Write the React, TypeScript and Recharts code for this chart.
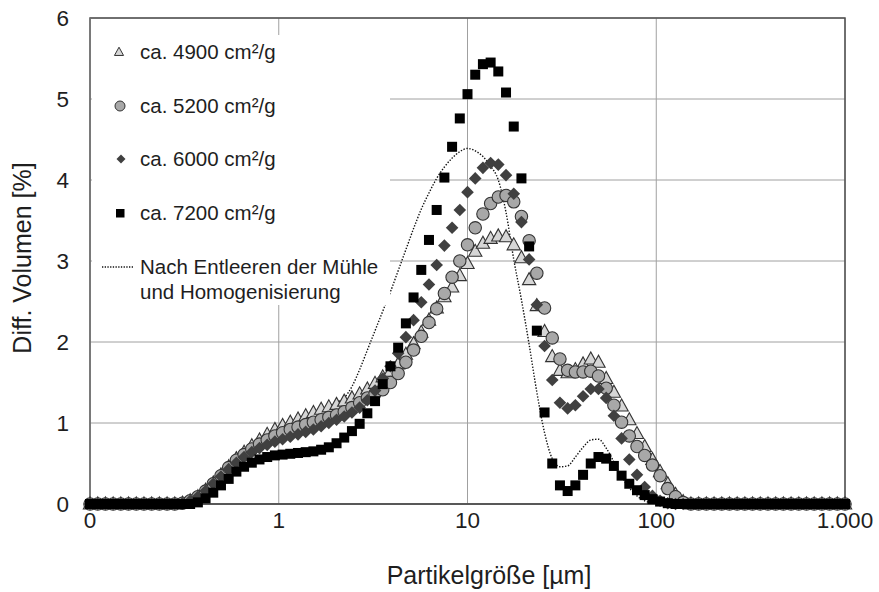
import React from 'react';
import { ComposedChart, Line, XAxis, YAxis, CartesianGrid, Legend, ReferenceArea } from 'recharts';

// particle size classes [µm]
const sizes = [
  0.1, 0.1099, 0.1207, 0.1326, 0.1456, 0.16, 0.1758, 0.1931, 0.2121, 0.233,
  0.256, 0.2812, 0.3089, 0.3393, 0.3728, 0.4095, 0.4498, 0.4942, 0.5429, 0.5964,
  0.6551, 0.7197, 0.7906, 0.8685, 0.9541, 1.048, 1.151, 1.265, 1.389, 1.526,
  1.677, 1.842, 2.024, 2.223, 2.442, 2.683, 2.947, 3.237, 3.556, 3.907,
  4.292, 4.715, 5.179, 5.69, 6.25, 6.866, 7.543, 8.286, 9.103, 10,
  10.99, 12.07, 13.26, 14.56, 16, 17.58, 19.31, 21.21, 23.3, 25.6,
  28.12, 30.89, 33.93, 37.28, 40.95, 44.98, 49.42, 54.29, 59.64, 65.51,
  71.97, 79.06, 86.85, 95.41, 104.8, 115.1, 126.5, 138.9, 152.6, 167.7,
  184.2, 202.4, 222.3, 244.2, 268.3, 294.7, 323.7, 355.6, 390.7, 429.2,
  471.5, 517.9, 569, 625, 686.6, 754.3, 828.6, 910.3, 1000,
];

const ca4900 = [
  0, 0, 0, 0, 0, 0, 0, 0, 0, 0,
  0, 0, 0.01, 0.04, 0.09, 0.17, 0.26, 0.36, 0.46, 0.56,
  0.64, 0.72, 0.79, 0.86, 0.92, 0.97, 1.01, 1.05, 1.09, 1.13,
  1.17, 1.2, 1.23, 1.27, 1.31, 1.36, 1.42, 1.49, 1.57, 1.64,
  1.73, 1.85, 1.98, 2.12, 2.27, 2.42, 2.56, 2.68, 2.82, 2.97,
  3.12, 3.22, 3.28, 3.31, 3.3, 3.2, 3.04, 2.77, 2.45, 2.13,
  1.82, 1.65, 1.62, 1.66, 1.73, 1.79, 1.75, 1.55, 1.38, 1.21,
  1.04, 0.87, 0.71, 0.55, 0.4, 0.25, 0.12, 0.03, 0, 0,
  0, 0, 0, 0, 0, 0, 0, 0, 0, 0,
  0, 0, 0, 0, 0, 0, 0, 0, 0,
];

const ca5200 = [
  0, 0, 0, 0, 0, 0, 0, 0, 0, 0,
  0, 0, 0.01, 0.04, 0.09, 0.16, 0.25, 0.35, 0.45, 0.54,
  0.61, 0.68, 0.74, 0.79, 0.84, 0.88, 0.92, 0.95, 0.98, 1.01,
  1.04, 1.07, 1.1, 1.14, 1.19, 1.25, 1.31, 1.36, 1.41, 1.5,
  1.61, 1.75, 1.9, 2.07, 2.24, 2.41, 2.6, 2.8, 3.0, 3.2,
  3.41, 3.58, 3.71, 3.79, 3.81, 3.73, 3.55, 3.25, 2.85, 2.42,
  2.05, 1.79, 1.65, 1.63, 1.63, 1.64, 1.58, 1.43, 1.22, 1.01,
  0.84, 0.71, 0.6, 0.48, 0.35, 0.19, 0.09, 0.02, 0, 0,
  0, 0, 0, 0, 0, 0, 0, 0, 0, 0,
  0, 0, 0, 0, 0, 0, 0, 0, 0,
];

const ca6000 = [
  0, 0, 0, 0, 0, 0, 0, 0, 0, 0,
  0, 0, 0.01, 0.04, 0.09, 0.16, 0.25, 0.34, 0.43, 0.51,
  0.58, 0.64, 0.69, 0.73, 0.77, 0.8, 0.83, 0.86, 0.89, 0.92,
  0.96, 1.0, 1.04, 1.08, 1.13, 1.19, 1.28, 1.4, 1.55, 1.7,
  1.86, 2.06, 2.27, 2.49, 2.71, 2.95, 3.19, 3.41, 3.63, 3.85,
  4.02, 4.15, 4.21, 4.19, 4.06, 3.83, 3.48, 3.02, 2.46, 1.95,
  1.53, 1.25, 1.18, 1.22, 1.33, 1.42, 1.42, 1.31, 1.09, 0.81,
  0.55, 0.36, 0.21, 0.1, 0.04, 0.01, 0, 0, 0, 0,
  0, 0, 0, 0, 0, 0, 0, 0, 0, 0,
  0, 0, 0, 0, 0, 0, 0, 0, 0,
];

const ca7200 = [
  0, 0, 0, 0, 0, 0, 0, 0, 0, 0,
  0, 0, 0, 0, 0.02, 0.07, 0.14, 0.23, 0.31, 0.4,
  0.46, 0.51, 0.55, 0.58, 0.6, 0.61, 0.62, 0.63, 0.64, 0.65,
  0.67, 0.7, 0.75, 0.82, 0.9, 0.99, 1.12, 1.27, 1.48, 1.7,
  1.93, 2.23, 2.55, 2.89, 3.26, 3.63, 4.03, 4.41, 4.76, 5.06,
  5.3, 5.43, 5.45, 5.34, 5.08, 4.66, 4.02, 3.18, 2.14, 1.13,
  0.5, 0.23, 0.16, 0.23, 0.36, 0.5, 0.58, 0.56, 0.47, 0.35,
  0.25, 0.17, 0.11, 0.06, 0.03, 0.01, 0, 0, 0, 0,
  0, 0, 0, 0, 0, 0, 0, 0, 0, 0,
  0, 0, 0, 0, 0, 0, 0, 0, 0,
];

// after emptying the mill and homogenising
const entleert = [
  0, 0, 0, 0, 0, 0, 0, 0, 0, 0,
  0, 0, 0, 0.04, 0.09, 0.17, 0.26, 0.36, 0.46, 0.56,
  0.64, 0.72, 0.79, 0.86, 0.92, 0.97, 1.01, 1.05, 1.09, 1.13,
  1.17, 1.21, 1.25, 1.31, 1.45, 1.66, 1.9, 2.14, 2.38, 2.62,
  2.88, 3.14, 3.4, 3.64, 3.84, 4.02, 4.16, 4.27, 4.35, 4.39,
  4.36, 4.29, 4.17, 4.0, 3.6, 3.02, 2.52, 1.97, 1.38, 0.88,
  0.56, 0.46, 0.47, 0.58, 0.7, 0.79, 0.8, 0.69, 0.52, 0.34,
  0.2, 0.1, 0.04, 0.01, 0, 0, 0, 0, 0, 0,
  0, 0, 0, 0, 0, 0, 0, 0, 0, 0,
  0, 0, 0, 0, 0, 0, 0, 0, 0,
];

const seriesNames = ['ca. 4900 cm²/g', 'ca. 5200 cm²/g', 'ca. 6000 cm²/g', 'ca. 7200 cm²/g'];
const lineNames = ['Nach Entleeren der Mühle', 'und Homogenisierung'];
const xTicks = [0.1, 1, 10, 100, 1000];
const yTicks = [0, 1, 2, 3, 4, 5, 6];

const data = sizes.map((x, i) => ({
  x,
  t: ca4900[i],
  c: ca5200[i],
  d: ca6000[i],
  s: ca7200[i],
  n: entleert[i],
}));

const FONT = '"Liberation Sans", Arial, sans-serif';
const TEXT = '#1e1e1e';
const EDGE = '#333';

const triPoints = (cx: number, cy: number, r: number) =>
  `${cx},${cy - r} ${cx - r * 0.95},${cy + r * 0.72} ${cx + r * 0.95},${cy + r * 0.72}`;

const TriangleDot = (p: any) => {
  if (p.cx == null || p.cy == null) return <g key={p.index} />;
  return <polygon key={p.index} points={triPoints(p.cx, p.cy, 7)} fill="#d6d6d6" stroke={EDGE} strokeWidth={1.1} />;
};

const CircleDot = (p: any) => {
  if (p.cx == null || p.cy == null) return <g key={p.index} />;
  return <circle key={p.index} cx={p.cx} cy={p.cy} r={6.2} fill="#a8a8a8" stroke={EDGE} strokeWidth={1.1} />;
};

const DiamondDot = (p: any) => {
  if (p.cx == null || p.cy == null) return <g key={p.index} />;
  const r = 6.3;
  return (
    <polygon
      key={p.index}
      points={`${p.cx},${p.cy - r} ${p.cx + r},${p.cy} ${p.cx},${p.cy + r} ${p.cx - r},${p.cy}`}
      fill="#404040"
    />
  );
};

const SquareDot = (p: any) => {
  if (p.cx == null || p.cy == null) return <g key={p.index} />;
  return <rect key={p.index} x={p.cx - 5} y={p.cy - 5} width={10} height={10} fill="#000" />;
};

const legendRow = (top: number): React.CSSProperties => ({
  position: 'absolute',
  left: 0,
  top: top - 13,
  height: 26,
  lineHeight: '26px',
  width: '100%',
});

const LegendBox = () => {
  const rows = [17, 71, 124, 178];
  const icon = (i: number) => {
    if (i === 0) return <polygon points={triPoints(27, 13, 4.8)} fill="#d6d6d6" stroke={EDGE} strokeWidth={1} />;
    if (i === 1) return <circle cx={28} cy={13} r={5} fill="#a8a8a8" stroke={EDGE} strokeWidth={1} />;
    if (i === 2) return <polygon points="29,8.5 33.5,13 29,17.5 24.5,13" fill="#404040" />;
    return <rect x={24} y={9} width={8.5} height={8.5} fill="#000" />;
  };
  return (
    <div
      style={{
        position: 'relative',
        width: 298,
        height: 270,
        background: '#fff',
        fontFamily: FONT,
        fontSize: 20.5,
        color: TEXT,
      }}
    >
      {seriesNames.map((name, i) => (
        <div key={name} style={legendRow(rows[i])}>
          <svg width={40} height={26} style={{ position: 'absolute', left: 0, top: 0 }}>
            {icon(i)}
          </svg>
          <span style={{ position: 'absolute', left: 48, top: 0, whiteSpace: 'nowrap' }}>{name}</span>
        </div>
      ))}
      <div style={legendRow(232)}>
        <svg width={44} height={26} style={{ position: 'absolute', left: 0, top: 0 }}>
          <line x1={10} y1={13} x2={41} y2={13} stroke="#111" strokeWidth={1.3} strokeDasharray="1.3 1.4" />
        </svg>
        <span style={{ position: 'absolute', left: 48, top: 0, whiteSpace: 'nowrap' }}>{lineNames[0]}</span>
      </div>
      <div style={legendRow(257)}>
        <span style={{ position: 'absolute', left: 48, top: 0, whiteSpace: 'nowrap' }}>{lineNames[1]}</span>
      </div>
    </div>
  );
};

const XTitle = () => (
  <text x={489} y={584} textAnchor="middle" fontFamily={FONT} fontSize={25} fill={TEXT}>
    Partikelgröße [µm]
  </text>
);

const YTitle = () => (
  <text
    x={0}
    y={0}
    transform="translate(31, 258) rotate(-90)"
    textAnchor="middle"
    fontFamily={FONT}
    fontSize={25}
    fill={TEXT}
  >
    Diff. Volumen [%]
  </text>
);

const formatSize = (v: number) => v.toLocaleString('de-DE', { maximumFractionDigits: 0 });

export default function App() {
  return (
    <div style={{ position: 'absolute', left: 0, top: 0, width: 879, height: 592, background: '#fff' }}>
      <ComposedChart width={879} height={592} data={data} margin={{ top: 18, right: 34, bottom: 0, left: 0 }}>
        <CartesianGrid stroke="#a0a0a0" strokeWidth={1} />
        <XAxis
          dataKey="x"
          type="number"
          scale="log"
          domain={[0.1, 1000]}
          ticks={xTicks}
          tickFormatter={formatSize}
          height={88}
          tickSize={0}
          tickMargin={8}
          tickLine={false}
          axisLine={{ stroke: '#505050', strokeWidth: 1.5 }}
          tick={{ fontSize: 22.5, fill: TEXT, fontFamily: FONT }}
          label={<XTitle />}
        />
        <YAxis
          type="number"
          domain={[0, 6]}
          ticks={yTicks}
          width={90}
          tickSize={0}
          tickMargin={21}
          tickLine={false}
          axisLine={{ stroke: '#808080', strokeWidth: 1.2 }}
          tick={{ fontSize: 22.5, fill: TEXT, fontFamily: FONT }}
          label={<YTitle />}
        />
        <ReferenceArea x1={0.1} x2={1000} y1={0} y2={6} fill="none" stroke="#505050" strokeWidth={1.5} ifOverflow="visible" />
        <Line dataKey="n" type="monotone" stroke="#111" strokeWidth={1.4} strokeDasharray="1.4 1.6" dot={false} activeDot={false} isAnimationActive={false} />
        <Line dataKey="t" stroke="none" dot={TriangleDot} activeDot={false} isAnimationActive={false} />
        <Line dataKey="c" stroke="none" dot={CircleDot} activeDot={false} isAnimationActive={false} />
        <Line dataKey="d" stroke="none" dot={DiamondDot} activeDot={false} isAnimationActive={false} />
        <Line dataKey="s" stroke="none" dot={SquareDot} activeDot={false} isAnimationActive={false} />
        <Legend
          layout="vertical"
          align="center"
          verticalAlign="middle"
          wrapperStyle={{ left: 92, top: 35, width: 298, height: 270 }}
          content={() => <LegendBox />}
        />
      </ComposedChart>
    </div>
  );
}
